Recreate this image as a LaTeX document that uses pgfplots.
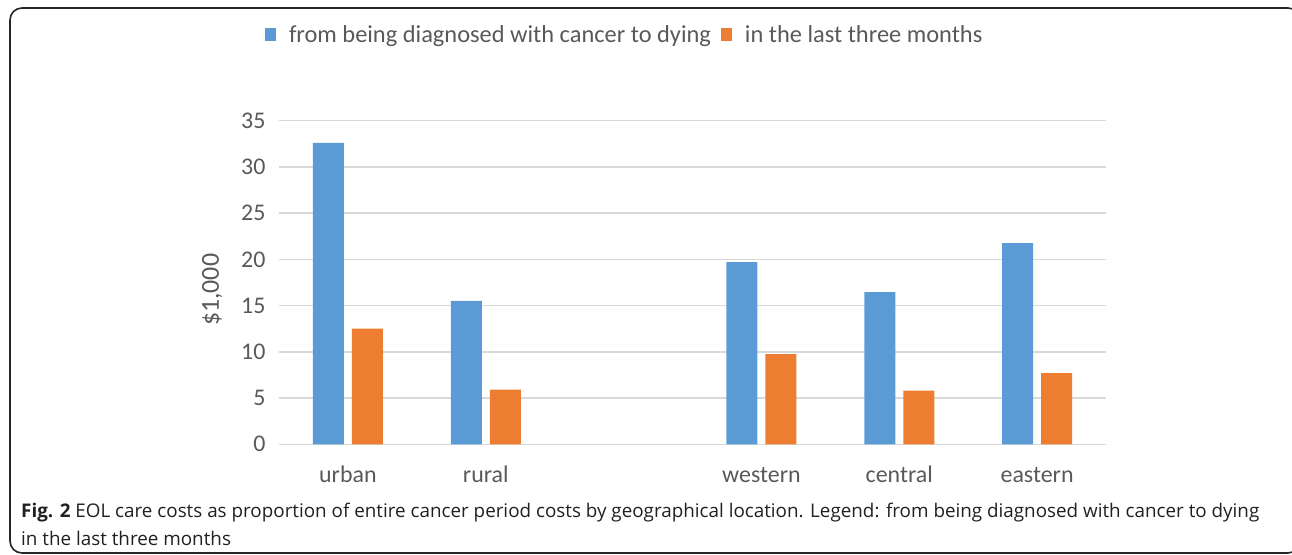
\documentclass[border=0pt]{standalone}
\usepackage{pgfplots}
\pgfplotsset{compat=1.18}
\usepackage{fontspec}
\setmainfont{Carlito}
\newfontfamily\capfont{Open Sans}
\definecolor{cblue}{HTML}{5B9BD5}
\definecolor{corange}{HTML}{ED7D31}
\definecolor{cgrid}{HTML}{D9D9D9}
\definecolor{ctext}{HTML}{595959}
\definecolor{ccap}{HTML}{231F20}
\begin{document}
\begin{tikzpicture}[x=1bp,y=1bp]
\useasboundingbox (0,0) rectangle (1292,555);
\draw[line width=1.6bp, black!85, rounded corners=12bp] (10,2) rectangle (1300,547);
\begin{axis}[
  at={(279bp,110.7bp)}, anchor=south west,
  scale only axis, width=827bp, height=323.6bp,
  xmin=-0.5, xmax=5.5, ymin=0, ymax=35,
  ybar=8bp, bar width=31bp,
  axis line style={draw=none},
  ytick={0,5,...,35},
  xtick={0,1,3,4,5},
  xticklabels={urban,rural,western,central,eastern},
  major tick length=0pt,
  ymajorgrids, grid style={cgrid, line width=1.5bp},
  /pgf/number format/assume math mode=true,
  tick label style={font=\fontsize{24}{28}\selectfont, text=ctext},
  yticklabel style={xshift=-10bp},
  xticklabel style={yshift=-20bp, text height=15bp, text depth=4bp},
  ylabel={\$1,000},
  ylabel style={at={(axis description cs:-0.081,0.477)}, anchor=center, font=\fontsize{26}{30}\selectfont, text=ctext},
  legend style={at={(axis description cs:0.418,1.265)}, anchor=center, draw=none, fill=none,
    legend columns=2, font=\fontsize{24.5}{28}\selectfont, text=ctext,
    /tikz/every odd column/.append style={column sep=11bp},
    /tikz/every even column/.append style={column sep=8bp}},
  legend image code/.code={\fill[#1,draw=none] (0bp,-6bp) rectangle (11bp,7bp);},
]
\addplot[fill=cblue, draw=none] coordinates {(0,32.6) (1,15.5) (3,19.7) (4,16.45) (5,21.75)};
\addlegendentry{from being diagnosed with cancer to dying}
\addplot[fill=corange, draw=none] coordinates {(0,12.5) (1,5.9) (3,9.75) (4,5.8) (5,7.7)};
\addlegendentry{in the last three months}
\end{axis}
\node[anchor=base west, inner sep=0pt, font=\capfont\fontsize{18.9}{22}\selectfont, text=ccap] at (21,37) {\textbf{Fig. 2} EOL care costs as proportion of entire cancer period costs by geographical location. Legend: from being diagnosed with cancer to dying};
\node[anchor=base west, inner sep=0pt, font=\capfont\fontsize{18.9}{22}\selectfont, text=ccap] at (21,9) {in the last three months};
\end{tikzpicture}
\end{document}
